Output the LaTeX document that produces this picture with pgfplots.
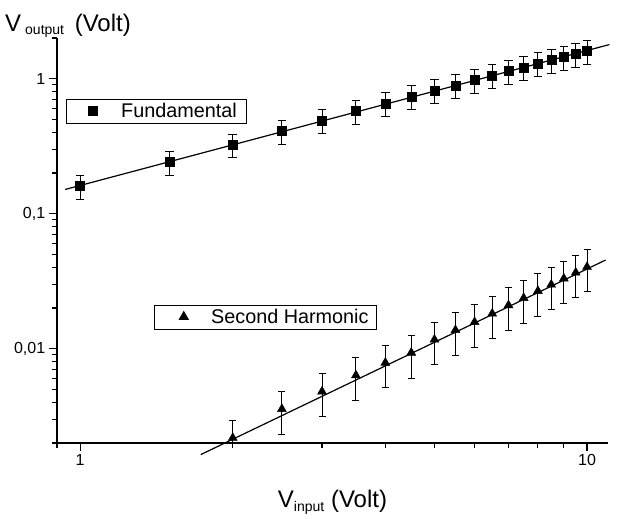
\documentclass[border=0pt]{standalone}
\usepackage{pgfplots}
\pgfplotsset{compat=1.18}
\usepackage{pgfplotstable}
\usepackage{fontspec}
\setmainfont{Liberation Sans}

\pgfplotstableread{
x    y      e
1    0.160  0.032
1.5  0.241  0.048
2    0.324  0.065
2.5  0.409  0.082
3    0.491  0.098
3.5  0.575  0.115
4    0.656  0.131
4.5  0.739  0.148
5    0.819  0.164
5.5  0.892  0.178
6    0.976  0.195
6.5  1.058  0.212
7    1.139  0.228
7.5  1.213  0.243
8    1.292  0.258
8.5  1.374  0.275
9    1.446  0.289
9.5  1.522  0.304
10   1.602  0.320
}\fund

\pgfplotstableread{
x    y        ep       em
2    0.00218  0.00077  0.00018
2.5  0.00357  0.00127  0.00127
3    0.00481  0.00169  0.00169
3.5  0.00634  0.00221  0.00221
4    0.00786  0.00274  0.00274
4.5  0.00933  0.00327  0.00327
5    0.01167  0.00400  0.00400
5.5  0.01373  0.00480  0.00480
6    0.01574  0.00550  0.00550
6.5  0.01818  0.00630  0.00630
7    0.02097  0.00730  0.00730
7.5  0.02372  0.00830  0.00830
8    0.02673  0.00930  0.00930
8.5  0.02980  0.01040  0.01040
9    0.03305  0.01140  0.01140
9.5  0.03657  0.01280  0.01280
10   0.04030  0.01400  0.01400
}\second

\begin{document}
\begin{tikzpicture}
\path[use as bounding box] (-57pt,-76pt) rectangle (562pt,443pt);
\begin{axis}[
  width=551pt, height=405pt, scale only axis,
  xmode=log, ymode=log,
  xmin=0.9, xmax=11, ymin=0.002, ymax=2,
  clip=false,
  at={(0pt,0pt)}, anchor=south west,
  legend cell align=left,
  legend image code/.code={%
    \path (-26pt,7pt) (28pt,7pt);
    \draw[mark repeat=2,mark phase=2,#1] plot coordinates {(-1pt,7pt) (0pt,7pt) (1pt,7pt)};},
  axis lines*=left,
  axis line style={line width=1.6pt},
  tick align=outside,
  major tick length=8.3pt, minor tick length=5pt,
  tick style={line width=1.1pt, black},
  xtick={1,10}, xticklabels={1,10},
  minor xtick={0.9,2,3,4,5,6,7,8,9},
  ytick={0.01,0.1,1}, yticklabels={{0,01},{0,1},{1}},
  minor ytick={0.002,0.003,0.004,0.005,0.006,0.007,0.008,0.009,0.02,0.03,0.04,0.05,0.06,0.07,0.08,0.09,0.2,0.3,0.4,0.5,0.6,0.7,0.8,0.9,2},
  ticklabel style={font=\fontsize{16}{18}\selectfont},
  legend style={draw=black, line width=0.8pt, inner xsep=0pt, inner ysep=4pt,
    font=\fontsize{19.8}{22}\selectfont, nodes={inner sep=0pt, anchor=base},
    at={(0.01633,0.8494)}, anchor=north west},
]
\addplot[forget plot, black, line width=1.2pt] coordinates {(0.934,0.151) (11.07,1.788)};
\addplot[black, only marks, mark=square*, mark size=4.5pt, mark options={fill=black, draw=black},
  error bars/y dir=both, error bars/y explicit,
  error bars/error bar style={line width=0.9pt, black},
  error bars/error mark options={rotate=90, mark size=4.3pt, line width=0.9pt, black}]
  table[x=x, y=y, y error=e] {\fund};
\addlegendentry{Fundamental\hspace*{9.4pt}}
\end{axis}

\begin{axis}[
  width=551pt, height=405pt, scale only axis,
  xmode=log, ymode=log,
  xmin=0.9, xmax=11, ymin=0.002, ymax=2,
  clip=false, hide axis,
  at={(0pt,0pt)}, anchor=south west,
  legend cell align=left,
  legend image code/.code={%
    \path (-29pt,7pt) (27pt,7pt);
    \draw[mark repeat=2,mark phase=2,#1] plot coordinates {(-1pt,7pt) (0pt,7pt) (1pt,7pt)};},
  legend style={draw=black, line width=0.8pt, inner xsep=0pt, inner ysep=4pt,
    font=\fontsize{19.8}{22}\selectfont, nodes={inner sep=0pt, anchor=base},
    at={(0.176,0.3407)}, anchor=north west},
]
\addplot[forget plot, black, line width=1.2pt] coordinates {(1.729,0.00164) (10.88,0.0453)};
\addplot[black, only marks, mark=triangle*, mark size=5.2pt, mark options={fill=black, draw=black},
  error bars/y dir=both, error bars/y explicit,
  error bars/error bar style={line width=0.9pt, black},
  error bars/error mark options={rotate=90, mark size=3.5pt, line width=0.9pt, black}]
  table[x=x, y=y, y error plus=ep, y error minus=em] {\second};
\addlegendentry{Second Harmonic\hspace*{7.9pt}}
\end{axis}

\node[anchor=base west, inner sep=0pt, font=\fontsize{24}{28}\selectfont]
  at (-52pt,411pt) {V\kern4pt\raisebox{-3pt}{\fontsize{14}{16}\selectfont output}\kern4pt{} (Volt)};
\node[anchor=base, inner sep=0pt, font=\fontsize{24}{28}\selectfont]
  at (275.5pt,-64.7pt) {V\raisebox{-4pt}{\fontsize{14}{16}\selectfont input} (Volt)};
\end{tikzpicture}
\end{document}
